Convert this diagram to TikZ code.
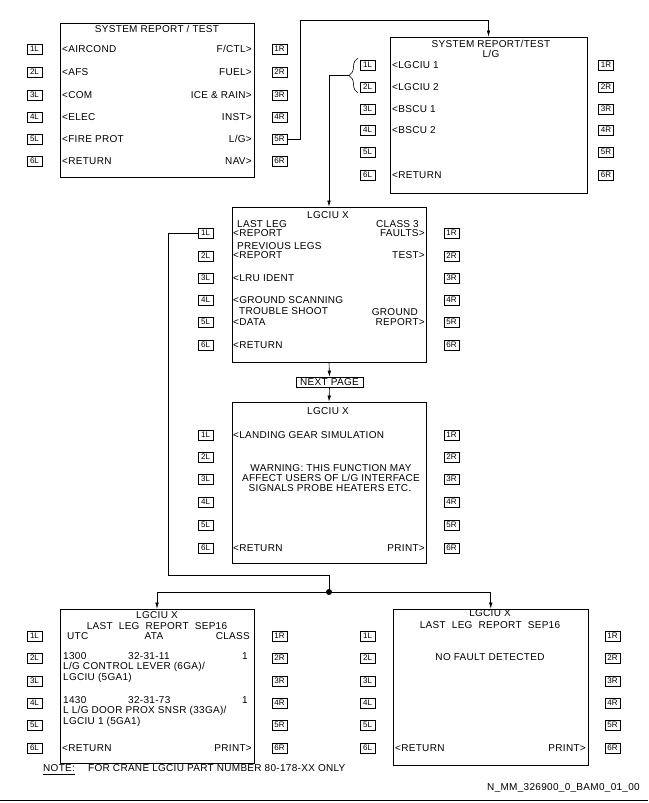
\documentclass[tikz,border=0pt]{standalone}
\usepackage{fontspec}
\setmainfont{Liberation Sans}[LetterSpace=3]
\newfontfamily\keyfont{Liberation Sans}
\usetikzlibrary{arrows.meta,decorations.pathreplacing,calc}
\newcounter{tn}
\newcommand\LT[3]{\stepcounter{tn}\node[txt,anchor=west] (t\thetn) at (#1,#2) {#3};}
\newcommand\RT[3]{\stepcounter{tn}\node[txt,anchor=east] (t\thetn) at (#1,#2) {#3};}
\newcommand\CT[3]{\stepcounter{tn}\node[txt,anchor=center] (t\thetn) at (#1,#2) {#3};}
\newcommand\mykeys[4]{%
  \foreach \yy [count=\i] in {#4} {
    \node[key] (#1L\i) at (#2,\yy) {\i L};
    \node[key] (#1R\i) at (#3,\yy) {\i R};
  }}
\begin{document}
\begin{tikzpicture}[x=1pt,y=-1pt,
  txt/.style={inner sep=0pt, text height=7.2pt, text depth=0pt, font=\fontsize{10}{10}\selectfont},
  key/.style={draw, line width=0.6pt, minimum width=15pt, minimum height=10pt, inner sep=0pt, font=\keyfont\fontsize{8}{8}\selectfont},
  scr/.style={draw, line width=0.7pt, inner sep=0pt},
  ln/.style={line width=0.6pt},
  arr/.style={line width=0.6pt, -{Latex[length=6pt,width=3.5pt]}}]
\useasboundingbox (0,0) rectangle (648,803);

% screens
\node[scr, minimum width=194pt, minimum height=154pt] (s1) at (157,100) {};
\node[scr, minimum width=197pt, minimum height=156pt] (s2) at (488.5,115) {};
\node[scr, minimum width=194pt, minimum height=155pt] (s3) at (329,284.5) {};
\node[scr, minimum width=194pt, minimum height=161pt] (s4) at (329,482.5) {};
\node[scr, minimum width=194pt, minimum height=154pt] (s5) at (157,686) {};
\node[scr, minimum width=194.5pt, minimum height=156pt] (s6) at (490.75,687) {};

% keys
\mykeys{ka}{34.5}{279.5}{49,72,95,117,139,161}
\mykeys{kb}{367.5}{606}{65,87,109,130,152,175}
\mykeys{kc}{205.5}{451.5}{233,256,278,300,322,345}
\mykeys{kd}{205.5}{451.5}{435,457,479,502,525,548}
\mykeys{ke}{34.5}{279.5}{636,658,681,703,725,748}
\mykeys{kf}{367.5}{612.5}{636,658,681,703,725,748}

% screen 1
\CT{157}{29}{SYSTEM REPORT / TEST}
\LT{62}{49}{<AIRCOND}   \RT{252}{49}{F/CTL>}
\LT{62}{72}{<AFS}       \RT{252}{72}{FUEL>}
\LT{62}{95}{<COM}       \RT{252}{95}{ICE \& RAIN>}
\LT{62}{117}{<ELEC}     \RT{252}{117}{INST>}
\LT{62}{139}{<FIRE PROT}\RT{252}{139}{L/G>}
\LT{62}{161}{<RETURN}   \RT{252}{161}{NAV>}

% screen 2
\CT{491}{44}{SYSTEM REPORT/TEST}
\CT{491}{54}{L/G}
\LT{392}{65}{<LGCIU 1}
\LT{392}{87}{<LGCIU 2}
\LT{392}{109}{<BSCU 1}
\LT{392}{130}{<BSCU 2}
\LT{392}{175}{<RETURN}

% screen 3
\CT{328}{215}{LGCIU X}
\LT{237}{224}{LAST LEG}      \RT{419}{224}{CLASS 3}
\LT{233}{233}{<REPORT}       \RT{425}{233}{FAULTS>}
\LT{237}{246}{PREVIOUS LEGS}
\LT{233}{255}{<REPORT}       \RT{425}{255}{TEST>}
\LT{233}{278}{<LRU IDENT}
\LT{233}{300}{<GROUND SCANNING}
\LT{239}{311}{TROUBLE SHOOT} \RT{418}{312}{GROUND}
\LT{233}{322}{<DATA}         \RT{425}{322}{REPORT>}
\LT{233}{345}{<RETURN}

% next page
\node[draw, line width=0.6pt, minimum width=67pt, minimum height=10pt, inner sep=0pt,
      font=\fontsize{10}{10}\selectfont] (np) at (329.5,382) {NEXT PAGE};

% screen 4
\CT{328}{411}{LGCIU X}
\LT{233}{435}{<LANDING GEAR SIMULATION}
\CT{331}{468}{WARNING: THIS FUNCTION MAY}
\CT{331}{478}{AFFECT USERS OF L/G INTERFACE}
\CT{330}{488}{SIGNALS PROBE HEATERS ETC.}
\LT{233}{548}{<RETURN}  \RT{425}{548}{PRINT>}

% screen 5
\CT{157}{615}{LGCIU X}
\CT{157}{626}{LAST\ \ LEG\ \ REPORT\ \ SEP16}
\LT{67}{636}{UTC} \CT{154}{636}{ATA} \RT{250}{636}{CLASS}
\LT{63}{656}{1300} \LT{128}{656}{32-31-11} \RT{248}{656}{1}
\LT{63}{666}{L/G CONTROL LEVER (6GA)/}
\LT{63}{677}{LGCIU (5GA1)}
\LT{63}{700}{1430} \LT{128}{700}{32-31-73} \RT{248}{700}{1}
\LT{63}{710}{L L/G DOOR PROX SNSR (33GA)/}
\LT{63}{721}{LGCIU 1 (5GA1)}
\LT{62}{748}{<RETURN} \RT{252}{748}{PRINT>}

% screen 6
\CT{490}{613}{LGCIU X}
\CT{490}{625}{LAST\ \ LEG\ \ REPORT\ \ SEP16}
\CT{490}{657}{NO FAULT DETECTED}
\LT{395}{748}{<RETURN} \RT{586}{748}{PRINT>}

% brace
\draw[ln, decorate, decoration={brace, amplitude=9pt}] (358,93) -- (358,58);
\coordinate (btip) at (349,75.5);

% junction
\node[circle, fill, inner sep=0pt, minimum size=6pt] (dot) at (329,592) {};

% connectors
\draw[arr] (kaR5.east) -- (300,139) -- (300,20) -| (s2.north);
\draw[arr] (btip) -| (s3.north);
\draw[arr] (s3.south) -- (np.north);
\draw[arr] (np.south) -- (s4.north);
\draw[ln] (kcL1.west) -| (168,575) -| (dot.north);
\draw[arr] (dot) -| (s5.north);
\draw[arr] (dot) -| (s6.north);

% footer
\LT{43}{768}{NOTE:}
\draw[ln] ([yshift=-2.5pt]t\thetn.south west) -- ([yshift=-2.5pt]t\thetn.south east);
\LT{88}{768}{FOR CRANE LGCIU PART NUMBER 80-178-XX ONLY}
\RT{640}{787}{N\_MM\_326900\_0\_BAM0\_01\_00}
\draw[line width=0.8pt] (0,800) -- (648,800);
\end{tikzpicture}
\end{document}
